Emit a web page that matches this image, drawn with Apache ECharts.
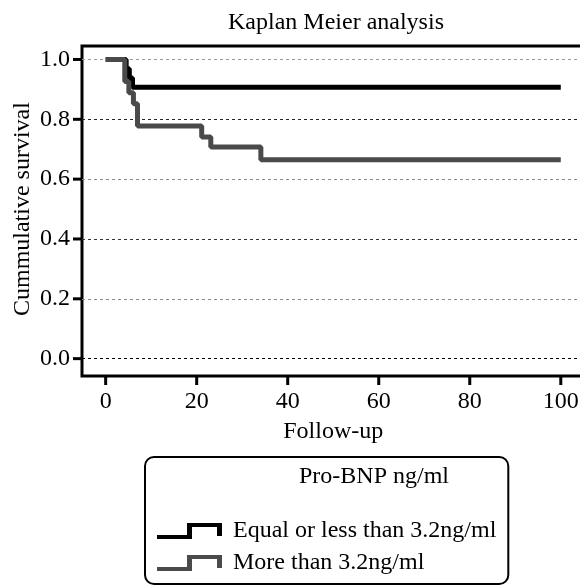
<!DOCTYPE html>
<html>
<head>
<meta charset="utf-8">
<script src="https://cdn.jsdelivr.net/npm/echarts@6/dist/echarts.min.js"></script>
<style>
  html, body { margin: 0; padding: 0; background: #fff; }
  #chart { width: 580px; height: 586px; }
</style>
</head>
<body>
<div id="chart"></div>
<script>
// data
const xTicks = [0, 20, 40, 60, 80, 100];
const yTicks = [0, 0.2, 0.4, 0.6, 0.8, 1.0];
const seriesNames = ['Equal or less than 3.2ng/ml', 'More than 3.2ng/ml'];
const lowTime = [0, 4.5, 5.2, 5.9, 100];
const lowSurv = [1, 0.969, 0.938, 0.907, 0.907];
const highTime = [0, 4.2, 5.1, 6.1, 7.0, 21.1, 23.1, 34.1, 100];
const highSurv = [1, 0.926, 0.889, 0.852, 0.778, 0.741, 0.707, 0.665, 0.665];

const font = 'Liberation Serif';
const gridColors = ['#000', '#888', '#333', '#888', '#222', '#999'];
const stepIcon = 'path://M0,12L30,12L30,0L65,0L65,13L60,13L60,4L35,4L35,16L0,16Z';

// plot frame runs a bit past the 0..100 / 0..1 range, like the original
const xPad = [-5.2, 106.2];
const yPad = [-0.058, 1.045];
const frame = { left: 82, top: 46, width: 507, height: 330 };
const pxX = frame.width / (xPad[1] - xPad[0]);
const pxY = frame.height / (yPad[1] - yPad[0]);
const inner = {
  left: frame.left - xPad[0] * pxX,
  top: frame.top + (yPad[1] - 1) * pxY,
  width: 100 * pxX,
  height: 1 * pxY
};
const tickLen = 9;

// tick marks drawn through the frame axes
function tickSeries(points, dx, dy) {
  return {
    type: 'custom',
    xAxisIndex: 0,
    yAxisIndex: 0,
    silent: true,
    clip: false,
    z: 5,
    data: points,
    renderItem: (params, api) => {
      const p = api.coord([api.value(0), api.value(1)]);
      return {
        type: 'line',
        shape: { x1: p[0], y1: p[1], x2: p[0] + dx, y2: p[1] + dy },
        style: { stroke: '#000', lineWidth: 3 }
      };
    }
  };
}

const chart = echarts.init(document.getElementById('chart'));

const option = {
  animation: false,
  backgroundColor: '#fff',
  title: [
    {
      text: 'Kaplan Meier analysis',
      left: 331,
      top: 6,
      textAlign: 'center',
      textStyle: { fontFamily: font, fontSize: 24, fontWeight: 'normal', color: '#000' }
    },
    {
      text: 'Pro-BNP ng/ml',
      left: 369,
      top: 460,
      textAlign: 'center',
      textStyle: { fontFamily: font, fontSize: 24, fontWeight: 'normal', color: '#000' }
    }
  ],
  legend: {
    orient: 'vertical',
    left: 145,
    top: 457,
    padding: [58, 12, 5, 12],
    itemGap: 0,
    itemWidth: 65,
    itemHeight: 16,
    icon: stepIcon,
    borderColor: '#000',
    borderWidth: 2,
    borderRadius: 9,
    selectedMode: false,
    data: seriesNames,
    textStyle: {
      fontFamily: font,
      fontSize: 24,
      color: '#000',
      lineHeight: 20,
      padding: [0, 0, 12, 6]
    }
  },
  grid: [
    Object.assign({ outerBoundsMode: 'none', containLabel: false, show: true, borderColor: '#000', borderWidth: 3 }, frame),
    Object.assign({ outerBoundsMode: 'none', containLabel: false, show: false }, inner)
  ],
  xAxis: [
    { type: 'value', gridIndex: 0, min: xPad[0], max: xPad[1], show: false },
    {
      type: 'value',
      gridIndex: 1,
      min: 0,
      max: 100,
      interval: 20,
      offset: frame.top + frame.height - inner.top - inner.height,
      name: 'Follow-up',
      nameLocation: 'middle',
      nameGap: 44,
      nameTextStyle: { fontFamily: font, fontSize: 24, color: '#000' },
      axisLine: { show: false, onZero: false },
      axisTick: { show: false },
      axisLabel: { fontFamily: font, fontSize: 24, color: '#000', margin: 14 },
      splitLine: { show: false }
    }
  ],
  yAxis: [
    { type: 'value', gridIndex: 0, min: yPad[0], max: yPad[1], show: false },
    {
      type: 'value',
      gridIndex: 1,
      min: 0,
      max: 1,
      interval: 0.2,
      offset: inner.left - frame.left,
      name: 'Cummulative survival',
      nameLocation: 'middle',
      nameGap: 47,
      nameMoveOverlap: false,
      nameTextStyle: { fontFamily: font, fontSize: 24, color: '#000' },
      axisLine: { show: false, onZero: false },
      axisTick: { show: false },
      axisLabel: { fontFamily: font, fontSize: 24, color: '#000', margin: 12, formatter: v => v.toFixed(1) },
      splitLine: { show: false }
    }
  ],
  series: [
    {
      name: seriesNames[0],
      type: 'line',
      xAxisIndex: 0,
      yAxisIndex: 0,
      step: 'end',
      showSymbol: false,
      color: '#000',
      lineStyle: { color: '#000', width: 5 },
      data: lowTime.map((t, i) => [t, lowSurv[i]]),
      markLine: {
        z: 1,
        silent: true,
        symbol: 'none',
        label: { show: false },
        lineStyle: { type: [3, 3], width: 1 },
        data: yTicks.map((v, i) => ({ yAxis: v, lineStyle: { color: gridColors[i], type: [3, 3], width: 1 } }))
      }
    },
    {
      name: seriesNames[1],
      type: 'line',
      xAxisIndex: 0,
      yAxisIndex: 0,
      step: 'end',
      showSymbol: false,
      color: '#4a4a4a',
      lineStyle: { color: '#4a4a4a', width: 5 },
      data: highTime.map((t, i) => [t, highSurv[i]])
    },
    tickSeries(xTicks.map(v => [v, yPad[0]]), 0, tickLen),
    tickSeries(yTicks.map(v => [xPad[0], v]), -tickLen, 0)
  ]
};

chart.setOption(option);
</script>
</body>
</html>
